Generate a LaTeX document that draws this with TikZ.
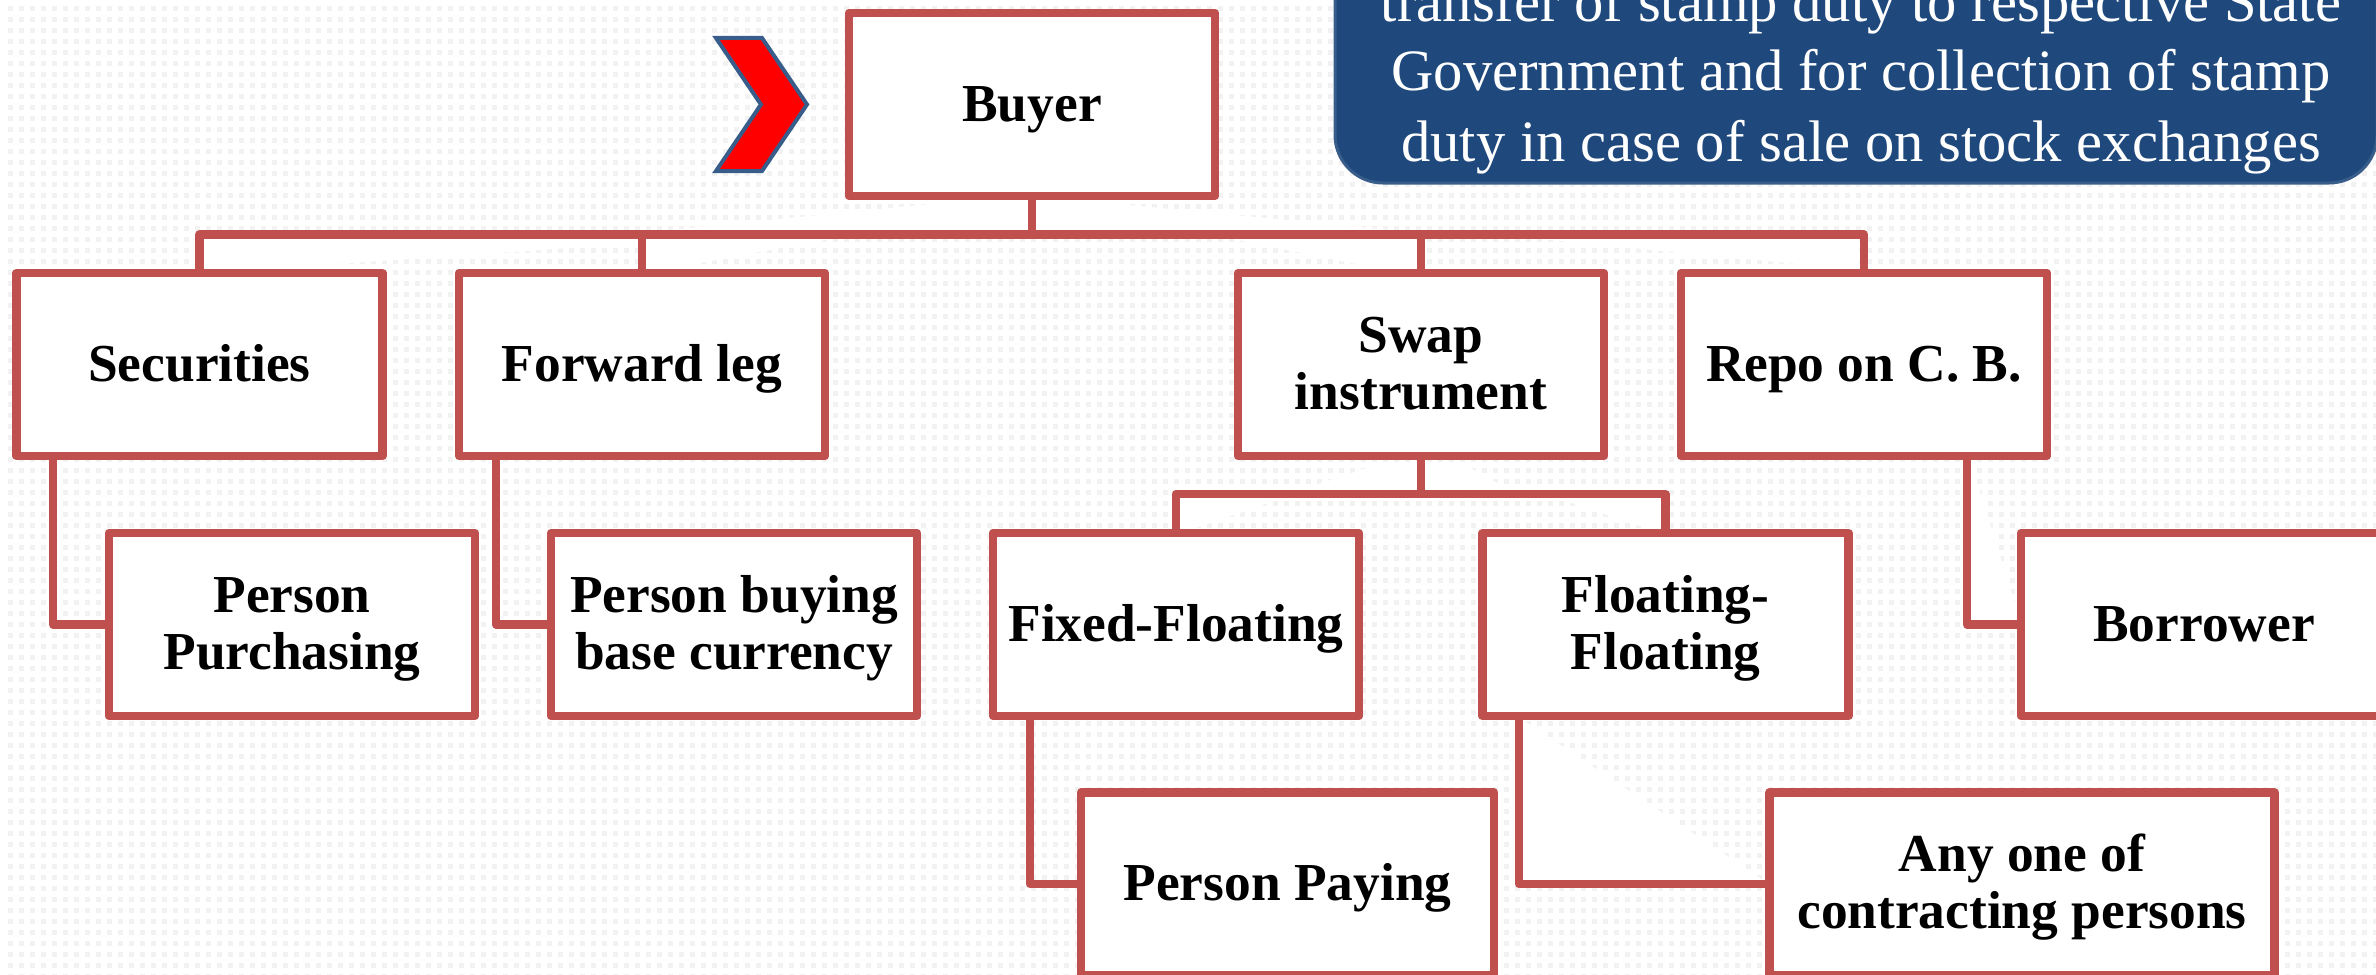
\documentclass[tikz,border=0pt]{standalone}
\usepackage{fontspec}
\setmainfont{Liberation Serif}
\definecolor{wirered}{HTML}{C0504D}
\definecolor{noteblue}{HTML}{1F497D}
\definecolor{noteedge}{HTML}{385D8A}
\definecolor{dotgrey}{HTML}{F2F2F2}
\newcommand\oneline[1]{\raisebox{-8.4pt}[0pt][0pt]{\makebox[0pt]{#1}}}
\newcommand\twolines[2]{\raisebox{6.1pt}[0pt][0pt]{\makebox[0pt]{#1}}\raisebox{-22.4pt}[0pt][0pt]{\makebox[0pt]{#2}}}
\tikzset{
  stagebox/.style={draw=wirered,line width=4.2pt,line join=round,fill=white,inner sep=0pt,outer sep=0pt,
    minimum width=183pt,minimum height=91.5pt,font=\fontsize{26.7pt}{28pt}\selectfont\bfseries,text=black},
  wire/.style={draw=wirered,line width=4.2pt,line join=round},
  gap/.style={fill=white,draw=none},
  notebox/.style={rounded corners=24pt,fill=noteblue,draw=noteedge,line width=1.5pt,inner sep=0pt,outer sep=0pt,
    minimum width=521pt,minimum height=143pt,text=white,font=\fontsize{29.3pt}{35pt}\selectfont},
  pointer/.style={fill=red,draw=noteedge,line width=2pt,miter limit=10}
}
\begin{document}
\begin{tikzpicture}[x=0.5pt,y=-0.5pt]
\useasboundingbox (0,0) rectangle (2376,974);
\clip (0,0) rectangle (2376,974);
\fill[white] (0,0) rectangle (2376,974);
% dotted backdrop
\foreach \yy in {8.5,19.5,...,980}
  \draw[dotgrey,line width=2.5pt,dash pattern=on 2.5pt off 3pt] (8,\yy) -- (2376,\yy);
% white wedges in the backdrop
\fill[gap] (1032,200) -- (940,203) -- (660,231) -- (1400,231) -- (1108,203) -- cycle;
\fill[gap] (205,239) -- (642,239) -- (642,243) -- (205,273) -- cycle;
\fill[gap] (646,239) -- (830,239) -- (646,273) -- cycle;
\fill[gap] (1234,239) -- (1417,239) -- (1417,273) -- (1400,273) -- cycle;
\fill[gap] (1540,239) -- (1859,239) -- (1859,270) -- cycle;
\fill[gap] (1300,490) -- (1417,490) -- (1417,462) -- (1385,462) -- cycle;
\fill[gap] (1425,462) -- (1460,462) -- (1510,490) -- (1425,490) -- cycle;
\fill[gap] (1560,499) -- (1661,499) -- (1661,533) -- cycle;
\fill[gap] (1181,499) -- (1280,499) -- (1181,533) -- cycle;
\fill[gap] (1523,720) -- (1769,884) -- (1523,884) -- cycle;
\fill[gap] (1970,460) -- (2021,623) -- (1970,623) -- cycle;
% note
\node[notebox] (note) at (1856,40) {\raisebox{9.4pt}[0pt][0pt]{\makebox[0pt]{\hspace{5pt}transfer of stamp duty to respective State}}\raisebox{-25pt}[0pt][0pt]{\makebox[0pt]{\hspace{5pt}Government and for collection of stamp}}\raisebox{-60.6pt}[0pt][0pt]{\makebox[0pt]{\hspace{5pt}duty in case of sale on stock exchanges}}};
% pointer
\path[pointer] (716,38) -- (762,38) -- (807,104.5) -- (762,171) -- (716,171) -- (761,104.5) -- cycle;
% boxes
\node[stagebox] (buyer) at (1032,104.5) {\oneline{Buyer}};
\node[stagebox] (secur) at (199.5,364.5) {\oneline{Securities}};
\node[stagebox] (forw) at (642,364.5) {\oneline{Forward leg}};
\node[stagebox] (swap) at (1421,364.5) {\twolines{Swap}{instrument}};
\node[stagebox] (repo) at (1864,364.5) {\oneline{Repo on C. B.}};
\node[stagebox] (purch) at (292,624.5) {\twolines{Person}{Purchasing}};
\node[stagebox] (base) at (734,624.5) {\twolines{Person buying}{base currency}};
\node[stagebox] (fixed) at (1176,624.5) {\oneline{Fixed-Floating}};
\node[stagebox] (float) at (1665.5,624.5) {\twolines{Floating-}{Floating}};
\node[stagebox] (borrow) at (2204,624.5) {\oneline{Borrower}};
\node[stagebox,minimum width=206.5pt] (pay) at (1287.5,884) {\oneline{Person Paying}};
\node[stagebox,minimum width=252.5pt] (any) at (2022,884) {\twolines{Any one of}{contracting persons}};
% connectors
\coordinate (busA) at (1032,234.5);
\coordinate (busB) at (1421,494);
\coordinate (tapS) at (53,456);
\coordinate (tapF) at (496,456);
\coordinate (tapR) at (1967,456);
\coordinate (tapX) at (1030,716);
\coordinate (tapL) at (1519,716);
\draw[wire] (buyer.south) -- (busA);
\draw[wire] (secur.north) |- (busA) -| (repo.north);
\draw[wire] (forw.north) -- (forw.north |- busA);
\draw[wire] (swap.north) -- (swap.north |- busA);
\draw[wire] (swap.south) -- (busB);
\draw[wire] (fixed.north) |- (busB) -| (float.north);
\draw[wire] (tapS) |- (purch.west);
\draw[wire] (tapF) |- (base.west);
\draw[wire] (tapR) |- (borrow.west);
\draw[wire] (tapX) |- (pay.west);
\draw[wire] (tapL) |- (any.west);
\end{tikzpicture}
\end{document}
